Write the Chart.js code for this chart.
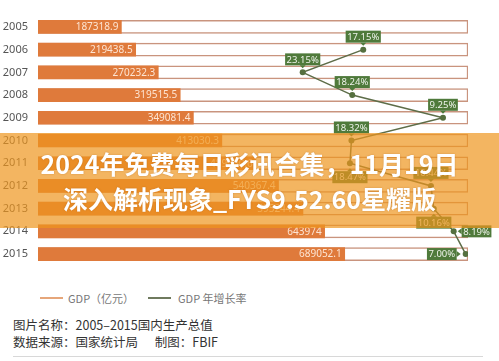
<!DOCTYPE html>
<html>
<head>
<meta charset="utf-8">
<script src="https://cdn.jsdelivr.net/npm/chart.js@4.4.1/dist/chart.umd.min.js"></script>
<style>
  html, body { margin: 0; padding: 0; background: #fff; }
  body { width: 499px; height: 361px; position: relative; overflow: hidden; font-family: "Noto Sans CJK SC", "Noto Sans", sans-serif; }
  #wrap { position: absolute; left: 0; top: -1px; width: 499px; height: 283px; }
  #banner { position: absolute; left: 0; top: 133px; width: 499px; height: 95px; background: rgba(238,150,30,0.70); z-index: 5; }
  #banner div { position: absolute; left: 0; width: 499px; text-align: center; color: #fff; font-family: "Noto Sans CJK SC", sans-serif; font-weight: 700; font-size: 25px; line-height: 30px; white-space: nowrap; text-shadow: 0 0 2px rgba(140,70,0,0.35); }
  .leg { position: absolute; top: 291px; font-size: 11px; color: #777; line-height: 14px; white-space: nowrap; }
  .legline { position: absolute; top: 297px; height: 2px; }
  .foot { position: absolute; left: 13px; font-size: 12.5px; color: #333; line-height: 16px; white-space: nowrap; }
  #rule { position: absolute; left: 13px; top: 356px; width: 470px; height: 1px; background: #d8d8d8; }
</style>
</head>
<body>
<div id="wrap"><canvas id="c"></canvas></div>
<div id="banner">
  <div style="top:15px">2024年免费每日彩讯合集，11月19日</div>
  <div style="top:50px">深入解析现象_FYS9.52.60星耀版</div>
</div>
<div class="legline" style="left:40px;width:23px;background:#e6a67a"></div>
<div class="leg" style="left:68px">GDP（亿元）</div>
<div class="legline" style="left:148px;width:23px;background:#6f7a5e"></div>
<div class="leg" style="left:178px">GDP 年增长率</div>
<div class="foot" style="top:317px">图片名称：2005–2015国内生产总值</div>
<div class="foot" style="top:334px">数据来源：国家统计局&nbsp;&nbsp;&nbsp;&nbsp;&nbsp;&nbsp;制图：FBIF</div>
<div id="rule"></div>
<script>
const years = ['2005','2006','2007','2008','2009','2010','2011','2012','2013','2014','2015'];
const gdpValues = [187318.9, 219438.5, 270232.3, 319515.5, 349081.4, 413030.3, 489300.6, 540367.4, 595244.4, 643974, 689052.1];
const growthValues = [null, 17.15, 23.15, 18.24, 9.25, 18.32, 18.47, 10.44, 10.16, 8.19, 7.00];
const growthLabelSides = ['top','top','top','top','top','top','bottom','top','bottom','right','left'];
const GDP_AXIS_MAX = 966000;
const frameValues = years.map(() => GDP_AXIS_MAX);

const barLabels = {
  id: 'barLabels',
  afterDatasetsDraw(chart) {
    const ctx = chart.ctx;
    const meta = chart.getDatasetMeta(1);
    ctx.save();
    ctx.font = '10px "Noto Sans", sans-serif';
    ctx.fillStyle = '#fde4d2';
    ctx.textAlign = 'right';
    ctx.textBaseline = 'middle';
    meta.data.forEach((el, i) => {
      ctx.fillText(String(gdpValues[i]), el.x - 3, el.y + 0.5);
    });
    ctx.restore();
  }
};

const lineLabels = {
  id: 'lineLabels',
  afterDatasetsDraw(chart) {
    const ctx = chart.ctx;
    const meta = chart.getDatasetMeta(2);
    ctx.save();
    ctx.font = '9.5px "Noto Sans", sans-serif';
    ctx.textBaseline = 'middle';
    ctx.textAlign = 'center';
    meta.data.forEach((el, i) => {
      const v = growthValues[i];
      if (v === null || v === undefined) return;
      const txt = v.toFixed(2) + '%';
      const w = ctx.measureText(txt).width + 3;
      const h = 12;
      const side = growthLabelSides[i];
      const px = el.x, py = el.y;
      let bx, by; // box top-left
      ctx.fillStyle = '#4f7a3b';
      ctx.beginPath();
      if (side === 'top') {
        bx = px - w / 2; by = py - 7 - h;
        ctx.moveTo(px - 3, by + h); ctx.lineTo(px + 3, by + h); ctx.lineTo(px, py - 4);
      } else if (side === 'bottom') {
        bx = px - w / 2; by = py + 8;
        ctx.moveTo(px - 3, by); ctx.lineTo(px + 3, by); ctx.lineTo(px, py + 5);
      } else if (side === 'right') {
        bx = px + 8; by = py - h / 2;
        ctx.moveTo(bx, py - 3); ctx.lineTo(bx, py + 3); ctx.lineTo(px + 4, py);
      } else {
        bx = px - 9 - w; by = py - h / 2;
        ctx.moveTo(bx + w, py - 3); ctx.lineTo(bx + w, py + 3); ctx.lineTo(px - 5, py);
      }
      ctx.closePath();
      ctx.fill();
      ctx.fillRect(bx, by, w, h);
      ctx.fillStyle = '#eef3ea';
      ctx.fillText(txt, bx + w / 2, by + h / 2 + 0.5);
    });
    ctx.restore();
  }
};

new Chart(document.getElementById('c'), {
  data: {
    labels: years,
    datasets: [
      { type: 'bar', label: 'frame', data: frameValues, backgroundColor: '#ffffff', borderColor: '#c9947e', borderWidth: 1.5, borderSkipped: false, grouped: false, barThickness: 13, order: 3, xAxisID: 'x' },
      { type: 'bar', label: 'GDP（亿元）', data: gdpValues, backgroundColor: '#df7a3b', borderWidth: 0, grouped: false, barThickness: 13, order: 2, xAxisID: 'x' },
      { type: 'line', label: 'GDP 年增长率', data: growthValues, indexAxis: 'y', xAxisID: 'x2', borderColor: '#5d6d48', borderWidth: 1.5, pointRadius: 3, pointBackgroundColor: '#55703f', pointBorderWidth: 0, spanGaps: true, tension: 0, order: 1 }
    ]
  },
  options: {
    indexAxis: 'y',
    responsive: true,
    maintainAspectRatio: false,
    animation: false,
    layout: { padding: { left: 0, right: 31, top: 0, bottom: 0 } },
    plugins: { legend: { display: false }, tooltip: { enabled: false } },
    scales: {
      x: { type: 'linear', min: 0, max: GDP_AXIS_MAX, display: false },
      x2: { type: 'linear', min: 6.77, max: 49.38, reverse: true, display: false },
      y: {
        type: 'category',
        offset: true,
        grid: { display: false, drawTicks: false },
        border: { display: false },
        ticks: { color: '#555', font: { family: '"Noto Sans", sans-serif', size: 11 }, padding: 10 },
        afterFit(scale) { scale.width = 38; }
      }
    }
  },
  plugins: [barLabels, lineLabels]
});
</script>
</body>
</html>
